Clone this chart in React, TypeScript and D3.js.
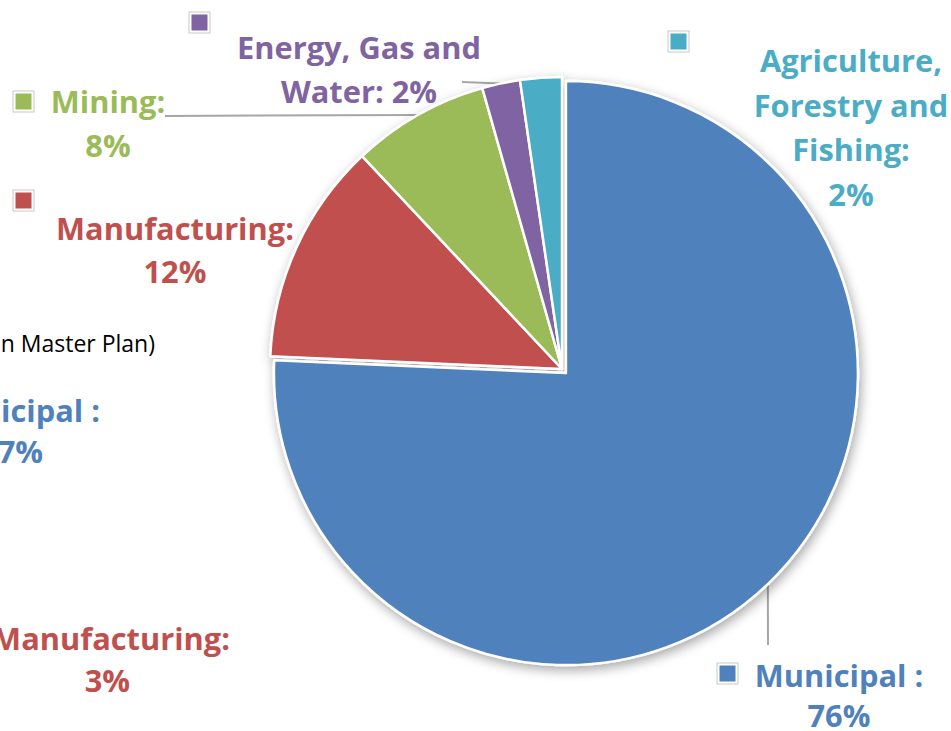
import React from "react";
import * as d3 from "d3";

// ---- data ----
const categories = ["Municipal", "Manufacturing", "Mining", "Energy, Gas and Water", "Agriculture, Forestry and Fishing"];
const values = [75.7, 12.3, 7.6, 2.1, 2.3];
const colors = ["#4F81BD", "#C0504D", "#9BBB59", "#8064A2", "#4BACC6"];
const labelHeads = [
  ["Municipal :"],
  ["Manufacturing:"],
  ["Mining:"],
  ["Energy, Gas and", "Water:"],
  ["Agriculture,", "Forestry and", "Fishing:"],
];
// whether the percentage goes on its own line
const pctOwnLine = [true, true, true, false, true];
const explode = [5.7, 0, 0, 0, 0];

// partial labels of a neighbouring chart, clipped at the left edge
const sideTexts = ["in Master Plan)", "Municipal :", "7%", "Manufacturing:", "3%"];
const sideColors = ["#000000", "#4F81BD", "#4F81BD", "#C0504D", "#C0504D"];

// ---- layout ----
const W = 951, H = 731;
const CX = 562, CY = 369, R = 292;
const FONT = "'Open Sans', Lato, sans-serif";
const FS = 30.8;
const labelLayout = [
  { cx: 839, y0: 687, lh: 40, key: [717, 663], lead: [768, 645] },
  { cx: 175, y0: 240, lh: 43, key: [13, 190], lead: null },
  { cx: 108, y0: 113, lh: 44, key: [13, 91], lead: [165, 116] },
  { cx: 359, y0: 59, lh: 44, key: [189, 12], lead: [462, 82] },
  { cx: 851, y0: 72, lh: 44.5, key: [668, 31], lead: null },
];
const sideLayout = [
  { x: 155, y: 352, bold: false, fs: 23 },
  { x: 100, y: 422, bold: true, fs: FS },
  { x: 43, y: 463, bold: true, fs: FS },
  { x: 230, y: 650, bold: true, fs: FS },
  { x: 130, y: 692, bold: true, fs: FS },
];

export default function App() {
  const total = d3.sum(values);
  const pie = d3.pie<number>().sort(null).value((d) => d)(values);
  const arc = d3.arc<d3.PieArcDatum<number>>().innerRadius(0).outerRadius(R);
  const edgeArc = d3.arc<d3.PieArcDatum<number>>().innerRadius(R).outerRadius(R);
  const fmt = d3.format(".0%");

  const offsets = pie.map((p, i) => {
    const mid = (p.startAngle + p.endAngle) / 2;
    return [explode[i] * Math.sin(mid), -explode[i] * Math.cos(mid)];
  });

  return (
    <svg
      width={W}
      height={H}
      style={{ position: "fixed", left: 0, top: 0, background: "#fff" }}
      fontFamily={FONT}
    >
      <defs>
        <filter id="sh" x="-20%" y="-20%" width="140%" height="140%">
          <feGaussianBlur in="SourceAlpha" stdDeviation="6" />
          <feOffset dx="2" dy="4" result="b" />
          <feComponentTransfer>
            <feFuncA type="linear" slope="0.35" />
          </feComponentTransfer>
          <feMerge>
            <feMergeNode />
            <feMergeNode in="SourceGraphic" />
          </feMerge>
        </filter>
      </defs>

      {/* side texts (clipped) */}
      {sideTexts.map((t, i) => (
        <text
          key={"s" + i}
          x={sideLayout[i].x}
          y={sideLayout[i].y}
          textAnchor="end"
          fill={sideColors[i]}
          fontSize={sideLayout[i].fs}
          fontWeight={sideLayout[i].bold ? 700 : 400}
        >
          {t}
        </text>
      ))}

      {/* leader lines */}
      {pie.map((p, i) => {
        const L = labelLayout[i].lead;
        if (!L) return null;
        const c = edgeArc.centroid(p);
        return (
          <line
            key={"l" + i}
            x1={CX + offsets[i][0] + c[0]}
            y1={CY + offsets[i][1] + c[1]}
            x2={L[0]}
            y2={L[1]}
            stroke="#a6a6a6"
            strokeWidth={2}
          />
        );
      })}

      <g filter="url(#sh)">
        {pie.map((p, i) => (
          <path
            key={"p" + i}
            d={arc(p) || ""}
            transform={`translate(${CX + offsets[i][0]},${CY + offsets[i][1]})`}
            fill={colors[i]}
            stroke="#fff"
            strokeWidth={2.5}
            strokeLinejoin="round"
          />
        ))}
      </g>

      {/* labels */}
      {pie.map((p, i) => {
        const lay = labelLayout[i];
        const pct = fmt(values[i] / total);
        const lines = labelHeads[i].slice();
        if (pctOwnLine[i]) lines.push(pct);
        else lines[lines.length - 1] = lines[lines.length - 1] + " " + pct;
        return (
          <g key={"t" + i}>
            <rect x={lay.key[0]} y={lay.key[1]} width={21} height={21} fill="#fff" stroke="#c8c8c8" strokeWidth={1} />
            <rect x={lay.key[0] + 2.5} y={lay.key[1] + 2.5} width={16} height={16} fill={colors[i]} />
            {lines.map((ln, j) => (
              <text
                key={j}
                x={lay.cx}
                y={lay.y0 + j * lay.lh}
                textAnchor="middle"
                fill={colors[i]}
                fontSize={FS}
                fontWeight={700}
              >
                {ln}
              </text>
            ))}
          </g>
        );
      })}
    </svg>
  );
}
